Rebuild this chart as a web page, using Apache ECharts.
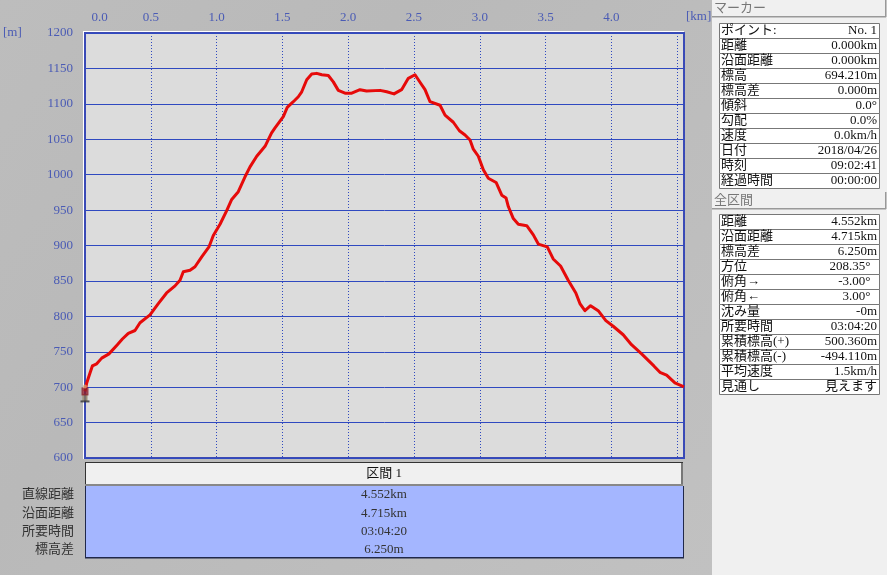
<!DOCTYPE html>
<html><head><meta charset="utf-8">
<style>html,body{margin:0;padding:0;background:#c0c0c0}#c{width:887px;height:575px}</style>
<script src="https://cdn.jsdelivr.net/npm/echarts@6/dist/echarts.min.js"></script>
</head><body><div id="c"></div>
<script>
const distanceKm=[0,0.013,0.038,0.056,0.089,0.127,0.182,0.246,0.284,0.329,0.38,0.418,0.494,0.557,0.62,0.684,0.722,0.747,0.798,0.836,0.887,0.942,0.975,1.026,1.076,1.115,1.165,1.216,1.254,1.305,1.368,1.418,1.444,1.507,1.537,1.583,1.621,1.647,1.685,1.723,1.761,1.799,1.849,1.887,1.925,1.976,2.027,2.09,2.14,2.242,2.293,2.348,2.406,2.457,2.508,2.551,2.584,2.622,2.698,2.736,2.799,2.845,2.888,2.926,2.951,2.989,3.027,3.065,3.124,3.167,3.2,3.217,3.255,3.293,3.357,3.407,3.445,3.513,3.558,3.614,3.672,3.73,3.761,3.799,3.842,3.9,3.958,4.014,4.09,4.153,4.23,4.323,4.369,4.42,4.483,4.552];
const elevationM=[694,706,720,730,733,741,747,760,768,776,780,791,802,818,833,843,851,863,865,870,884,898,914,930,949,965,976,997,1011,1026,1040,1059,1066,1082,1095,1103,1110,1117,1134,1142,1143,1141,1140,1131,1119,1115,1115,1120,1118,1119,1117,1114,1120,1136,1141,1129,1120,1103,1098,1084,1074,1062,1056,1049,1036,1026,1007,995,989,971,967,955,938,930,928,915,902,898,881,871,851,833,818,808,815,808,794,786,774,760,747,730,721,717,706,700.46];
const xTickLabels=['0.0','0.5','1.0','1.5','2.0','2.5','3.0','3.5','4.0'];
const sectionTitle='区間 1';
const sectionLabels=['直線距離','沿面距離','所要時間','標高差'];
const sectionValues=['4.552km','4.715km','03:04:20','6.250m'];
const markerTitle='マーカー';
const markerLabels=['ポイント:','距離','沿面距離','標高','標高差','傾斜','勾配','速度','日付','時刻','経過時間'];
const markerValues=['No. 1','0.000km','0.000km','694.210m','0.000m','0.0°','0.0%','0.0km/h','2018/04/26','09:02:41','00:00:00'];
const totalTitle='全区間';
const totalLabels=['距離','沿面距離','標高差','方位','俯角→','俯角←','沈み量','所要時間','累積標高(+)','累積標高(-)','平均速度','見通し'];
const totalValues=['4.552km','4.715km','6.250m','208.35°  ','-3.00°  ','3.00°  ','-0m','03:04:20','500.360m','-494.110m','1.5km/h','見えます'];

const FONT='"Liberation Serif","Noto Sans CJK JP",serif';
const AXC='#4a5bb5';
const g=[];
function rect(x,y,w,h,fill,stroke,z){g.push({type:'rect',silent:true,z:z||1,shape:{x,y,width:w,height:h},style:{fill:fill,stroke:stroke||null,lineWidth:stroke?1:0}});}
function text(x,y,s,color,align,size){g.push({type:'text',silent:true,z:5,x,y,style:{text:s,fill:color,font:(size||13)+'px '+FONT,textAlign:align||'left',textVerticalAlign:'middle'}});}
rect(0,0,712,575,{type:'linear',x:0,y:0,x2:1,y2:1,colorStops:[{offset:0,color:'#bdbdbd'},{offset:0.35,color:'#b9b9b9'},{offset:1,color:'#c1c1c1'}]},null,-3);
rect(712,0,175,575,'#f0f0f0',null,-3);
rect(83,31,601,428,'#ffffff',null,-2);
// section band
rect(85,462,598,23,'#f0f0f0',null,1);
rect(85,462,598,1,'#333',null,2);
rect(85,462,1,23,'#333',null,2);
rect(681,463,2,22,'#777',null,2);
rect(85,484,598,2,'#888',null,2);
rect(85.5,486,598,72,'#a4b6ff',null,1);
rect(85,486,1,72,'#20284a',null,2);
rect(683,486,1,72,'#20284a',null,2);
rect(85,557,599,1.5,'#20284a',null,2);
text(384,473.5,sectionTitle,'#111','center');
sectionLabels.forEach((s,i)=>{const y=495+i*18.3;text(74,y,s,'#333','right');text(384,y,sectionValues[i],'#333','center');});
// side panels
function panel(titleY,title,tableY,labels,values){
 rect(712,titleY,174,17,'#f0f0f0',null,1);
 rect(712,titleY+16,174,1.5,'#999',null,2);
 rect(885,titleY,1.5,17,'#999',null,2);
 text(714,titleY+9,title,'#777');
 labels.forEach((s,i)=>{const y=tableY+i*15;
  rect(719.5,y+0.5,160,15,'#ffffff','#777',1);
  text(721,y+8,s,'#111');
  text(877,y+8,values[i],'#111','right');});
}
panel(0,markerTitle,23,markerLabels,markerValues);
panel(192,totalTitle,214,totalLabels,totalValues);
text(3,33,'[m]',AXC);
text(686,17,'[km]',AXC);

const profile=distanceKm.map((d,i)=>[d,elevationM[i]]);
const chart=echarts.init(document.getElementById('c'),null,{renderer:'canvas'});
chart.setOption({
 animation:false,backgroundColor:'#c0c0c0',
 grid:{left:85,top:33,width:599,height:425,show:true,backgroundColor:'#dcdcdc',borderColor:'#3c4ab4',borderWidth:2,z:0},
 xAxis:{type:'value',position:'top',min:0,max:4.552,interval:0.5,
  axisLine:{show:false},axisTick:{show:false},
  splitLine:{show:true,lineStyle:{color:'#2f49c0',width:1,type:[1,2]}},
  axisLabel:{margin:9,color:AXC,fontFamily:FONT,fontSize:13,showMaxLabel:false,alignMinLabel:'left',
   formatter:v=>{const t=v.toFixed(1);return v<=4.01&&xTickLabels.includes(t)?(v===0?'  '+t:t):'';}}},
 yAxis:{type:'value',min:600,max:1200,interval:50,
  axisLine:{show:false},axisTick:{show:false},
  splitLine:{show:true,lineStyle:{color:'#2f49c0',width:1}},
  axisLabel:{margin:12,color:AXC,fontFamily:FONT,fontSize:13,formatter:v=>String(v)}},
 graphic:{elements:g},
 series:[
  {type:'line',data:profile,symbol:'none',clip:false,z:3,lineStyle:{color:'#e60a0a',width:3,join:'round'}},
  {type:'scatter',data:[profile[0]],clip:false,z:4,silent:true,symbol:'rect',symbolSize:[5,7],symbolOffset:[0,6],itemStyle:{color:'#8a7a5c'}},
  {type:'scatter',data:[profile[0]],clip:false,z:4,silent:true,symbol:'rect',symbolSize:[9,2],symbolOffset:[0,10],itemStyle:{color:'#333333'}},
  {type:'scatter',data:[profile[0]],clip:false,z:4,silent:true,symbol:'rect',symbolSize:[7,8],symbolOffset:[0,0],itemStyle:{color:'#8c1c28'}},
  {type:'scatter',data:[profile[0]],clip:false,z:4,silent:true,symbol:'circle',symbolSize:4,symbolOffset:[0,-5],itemStyle:{color:'#d8a070'}}
 ]
});
</script></body></html>
